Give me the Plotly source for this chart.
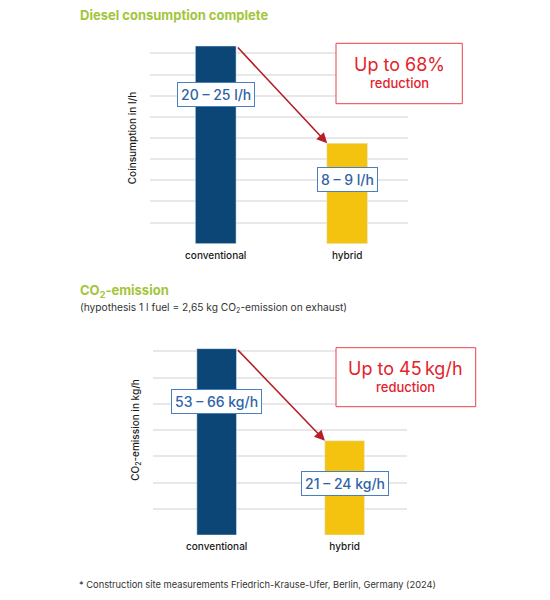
import plotly.graph_objects as go
from plotly.subplots import make_subplots

# categories and bar heights (in gridline units, the chart has no tick values)
categories = ["conventional", "hybrid"]
diesel_values = [9.35, 4.75]
co2_values = [7.1, 3.59]
diesel_labels = ["20 – 25 l/h", "8 – 9 l/h"]
co2_labels = ["53 – 66 kg/h", "21 – 24 kg/h"]
bar_colors = ["#0c4677", "#f3c30f"]

FONT = "Inter"
GREEN = "#a2c63b"
LABEL_BLUE = "#2f63a6"
RED = "#e3232c"
ARROW_RED = "#b51f27"
GRID = "#e8e8e8"

W, H = 550, 600
OFF = 8  # page body margin


def px(x):
    return (x - OFF) / W


def py(y):
    return 1 - (y - OFF) / H


fig = make_subplots(rows=2, cols=1)

fig.add_trace(go.Bar(x=categories, y=diesel_values, marker_color=bar_colors,
                     width=0.31, hoverinfo="skip"), row=1, col=1)
fig.add_trace(go.Bar(x=categories, y=co2_values, marker_color=bar_colors,
                     width=0.31, hoverinfo="skip"), row=2, col=1)

axis_font = dict(family=FONT, size=10, color="#1a1a1a", weight=500)
axis_common = dict(showline=False, zeroline=False, ticks="", automargin=False, tickfont=axis_font)
fig.update_xaxes(**axis_common, showgrid=False, ticklabelstandoff=4)
fig.update_yaxes(**axis_common, showgrid=True, gridcolor=GRID, gridwidth=1.5, showticklabels=False, dtick=1)

fig.update_layout(
    xaxis=dict(domain=[px(150), px(408)], range=[-0.5, 1.463]),
    yaxis=dict(domain=[py(243.7), py(32.3)], range=[0, 10],
               title=dict(text="Coinsumption in l/h", standoff=10, font=axis_font)),
    xaxis2=dict(domain=[px(152.7), px(407.3)], range=[-0.5, 1.49]),
    yaxis2=dict(domain=[py(535), py(325)], range=[0, 8],
                title=dict(text="CO<sub>2</sub>-emission in kg/h", standoff=10, font=axis_font)),
    width=W, height=H,
    margin=dict(l=0, r=0, t=0, b=0, pad=0, autoexpand=False),
    plot_bgcolor="white", paper_bgcolor="white",
    showlegend=False,
    font=dict(family=FONT),
)


# value boxes
def value_box(text, x, y, xref, yref):
    fig.add_annotation(text=text, x=x, y=y, xref=xref, yref=yref, showarrow=False,
                       font=dict(family=FONT, size=14, color=LABEL_BLUE, weight=500),
                       bgcolor="white", bordercolor="#4a7fbf", borderwidth=1, borderpad=3)


value_box(diesel_labels[0], 0, 7.07, "x", "y")
value_box(diesel_labels[1], 1, 3.06, "x", "y")
value_box(co2_labels[0], 0, 5.07, "x2", "y2")
value_box(co2_labels[1], 1, 1.95, "x2", "y2")

# arrows from the conventional bar top to the hybrid bar top
fig.add_annotation(x=0.848, y=diesel_values[1], ax=0.158, ay=diesel_values[0],
                   xref="x", yref="y", axref="x", ayref="y", text="", showarrow=True,
                   arrowhead=2, arrowsize=1.3, arrowwidth=1.6, arrowcolor=ARROW_RED)
fig.add_annotation(x=0.846, y=co2_values[1], ax=0.155, ay=co2_values[0],
                   xref="x2", yref="y2", axref="x2", ayref="y2", text="", showarrow=True,
                   arrowhead=2, arrowsize=1.3, arrowwidth=1.6, arrowcolor=ARROW_RED)

# red reduction boxes
fig.add_shape(type="rect", xref="paper", yref="paper", x0=px(336), x1=px(462.3), y0=py(103.7), y1=py(43.3),
              line=dict(color="#e8434a", width=1), fillcolor="white")
fig.add_shape(type="rect", xref="paper", yref="paper", x0=px(336), x1=px(475.7), y0=py(406.7), y1=py(347.7),
              line=dict(color="#e8434a", width=1), fillcolor="white")


def text_at(text, x, y, size, color, xanchor="center", weight=400):
    fig.add_annotation(text=text, x=px(x), y=py(y), xref="paper", yref="paper",
                       xanchor=xanchor, yanchor="middle", showarrow=False,
                       font=dict(family=FONT, size=size, color=color, weight=weight))


text_at("Up to 68%", 399.2, 65, 18, RED)
text_at("reduction", 399.2, 83.3, 13, RED, weight=500)
text_at("Up to 45\u2009kg/h", 405.9, 368.3, 18, RED)
text_at("reduction", 405.9, 387.3, 13, RED, weight=500)

# section titles and notes
text_at("Diesel consumption complete", 78, 15, 13, GREEN, "left", 700)
text_at("CO<sub>2</sub>-emission", 78, 291, 13, GREEN, "left", 700)
text_at("(hypothesis 1 l fuel = 2,65 kg CO<sub>2</sub>-emission on exhaust)", 78, 308.3, 10.2, "#333", "left")
text_at("* Construction site measurements Friedrich-Krause-Ufer, Berlin, Germany (2024)", 77, 584.3, 9.3, "#333", "left")

fig.write_html("out.html")
